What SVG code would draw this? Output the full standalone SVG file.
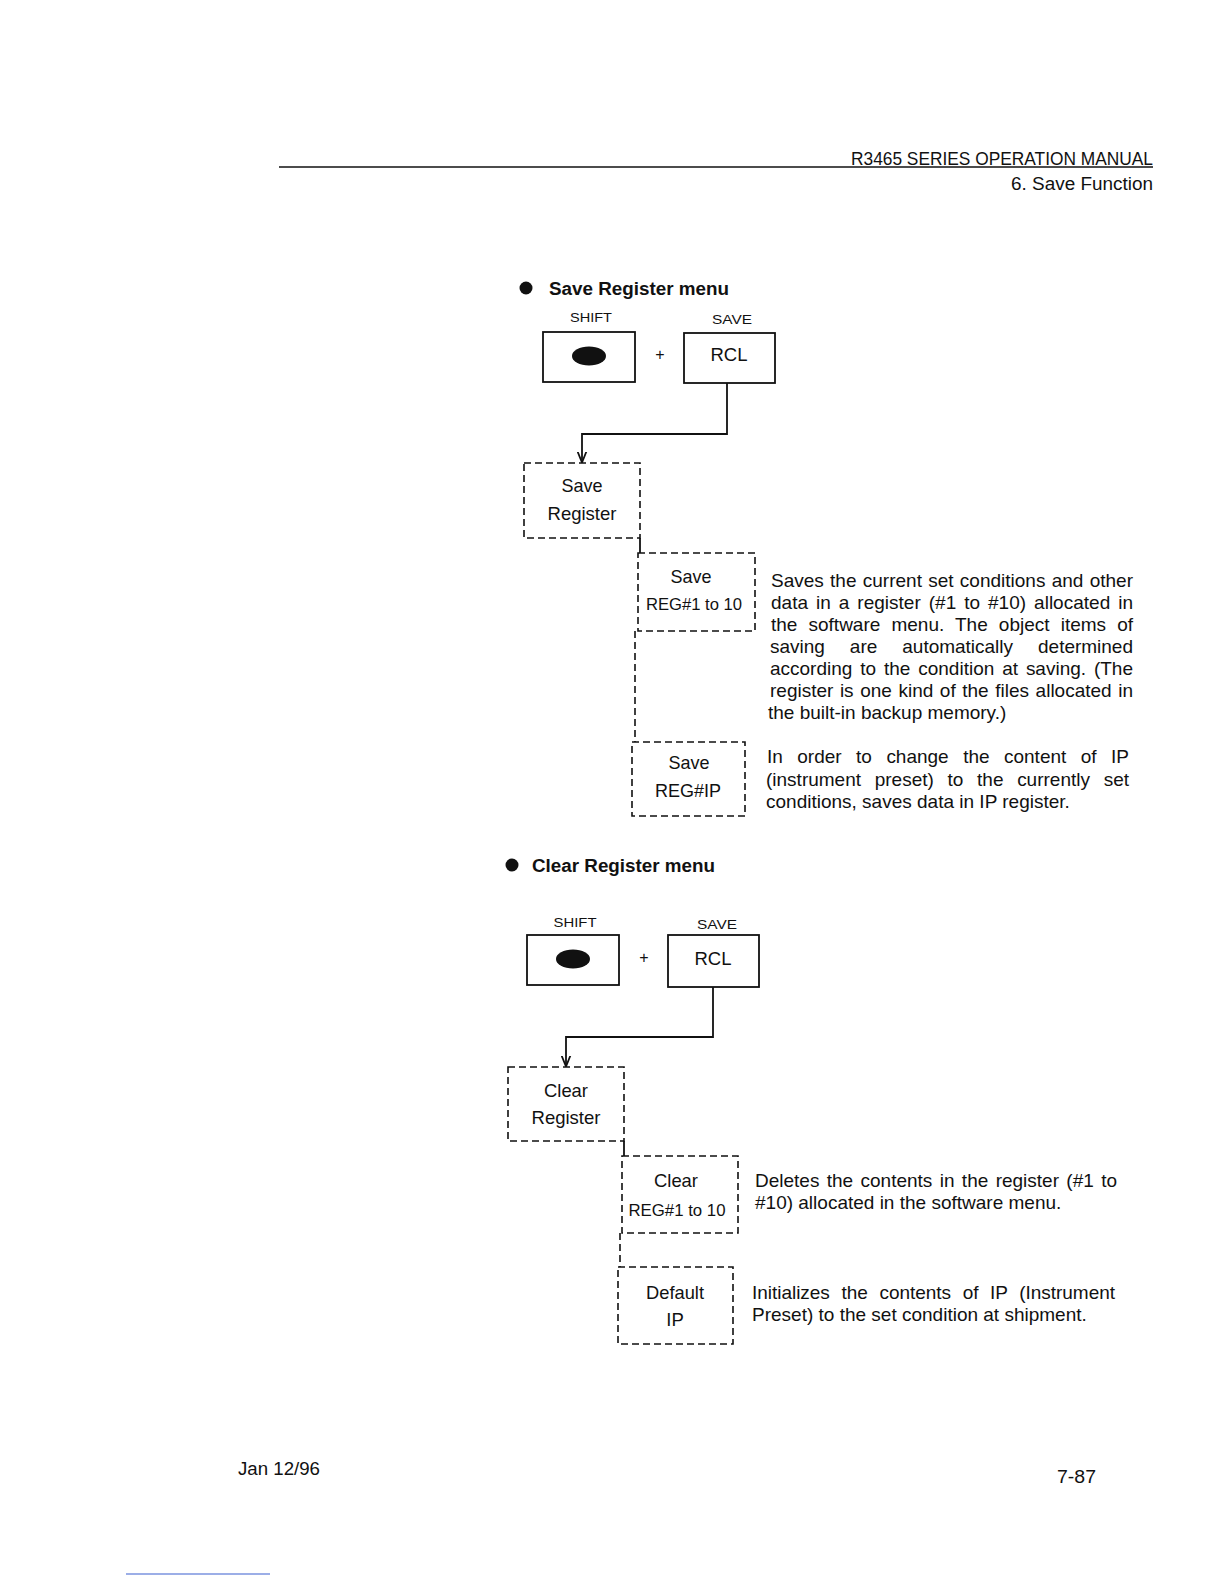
<svg xmlns="http://www.w3.org/2000/svg" width="1224" height="1584" viewBox="0 0 1224 1584">
<style>
text{font-family:"Liberation Sans",Arial,sans-serif;fill:#111}
.hdr{font-size:17.5px}
.title{font-size:18px;font-weight:bold}
.key{font-size:13px}
.btn{font-size:18.5px;text-anchor:middle}
.bt{font-size:18.5px;text-anchor:middle}
.bs{font-size:16px;text-anchor:middle}
.desc{font-size:19px}
.solid{fill:none;stroke:#111;stroke-width:1.8}
.dash{fill:none;stroke:#111;stroke-width:1.6;stroke-dasharray:7 4}
.conn{fill:none;stroke:#111;stroke-width:1.8}
.dconn{fill:none;stroke:#111;stroke-width:1.6;stroke-dasharray:7 4}
</style>
<defs>
<marker id="arr" viewBox="0 0 10 10" refX="9.5" refY="5" markerWidth="11" markerHeight="11" markerUnits="userSpaceOnUse" orient="auto">
<path d="M0,1 L10,5 L0,9" fill="none" stroke="#111" stroke-width="1.6"/>
</marker>
</defs>
<rect width="1224" height="1584" fill="#fff"/>

<g id="header">
<line x1="279" y1="167" x2="1153" y2="167" stroke="#111" stroke-width="1.3"/>
<text class="hdr" x="1153" y="165" text-anchor="end" textLength="302" lengthAdjust="spacingAndGlyphs">R3465 SERIES OPERATION MANUAL</text>
<text class="hdr" x="1153" y="190" text-anchor="end" textLength="142" lengthAdjust="spacingAndGlyphs">6. Save Function</text>
</g>

<g id="save-title">
<circle cx="526" cy="288" r="6.5" fill="#111"/>
<text class="title" x="549" y="295" textLength="180" lengthAdjust="spacingAndGlyphs">Save Register menu</text>
</g>

<g id="save-shift-key">
<text class="key" x="591" y="322" text-anchor="middle" textLength="42" lengthAdjust="spacingAndGlyphs">SHIFT</text>
<rect class="solid" x="543" y="332" width="92" height="50"/>
<ellipse cx="589" cy="356" rx="17" ry="9.5" fill="#111"/>
</g>
<text x="660" y="360" font-size="16" text-anchor="middle">+</text>
<g id="save-rcl-key">
<text class="key" x="732" y="324" text-anchor="middle" textLength="40" lengthAdjust="spacingAndGlyphs">SAVE</text>
<rect class="solid" x="684" y="333" width="91" height="50"/>
<text class="btn" x="729" y="361">RCL</text>
</g>

<g id="save-register">
<rect class="dash" x="524" y="463" width="116" height="75"/>
<text class="bt" x="582" y="492" textLength="41" lengthAdjust="spacingAndGlyphs">Save</text>
<text class="bt" x="582" y="520" textLength="69" lengthAdjust="spacingAndGlyphs">Register</text>
</g>

<g id="save-reg1-10">
<rect class="dash" x="638" y="553" width="117" height="78"/>
<text class="bt" x="691" y="583" textLength="41" lengthAdjust="spacingAndGlyphs">Save</text>
<text class="bs" x="694" y="610" textLength="96" lengthAdjust="spacingAndGlyphs">REG#1 to 10</text>
</g>

<g id="save-regip">
<rect class="dash" x="632" y="742" width="113" height="74"/>
<text class="bt" x="689" y="769" textLength="41" lengthAdjust="spacingAndGlyphs">Save</text>
<text class="bt" x="688" y="797" textLength="66" lengthAdjust="spacingAndGlyphs">REG#IP</text>
</g>

<g id="save-desc1">
<text class="desc" x="771" y="587" word-spacing="1" textLength="362" lengthAdjust="spacing">Saves the current set conditions and other</text>
<text class="desc" x="771" y="609" word-spacing="2.7" textLength="362" lengthAdjust="spacing">data in a register (#1 to #10) allocated in</text>
<text class="desc" x="771" y="631" word-spacing="5.8" textLength="362" lengthAdjust="spacing">the software menu. The object items of</text>
<text class="desc" x="770" y="653" word-spacing="19.7" textLength="363" lengthAdjust="spacing">saving are automatically determined</text>
<text class="desc" x="770" y="675" word-spacing="2.6" textLength="363" lengthAdjust="spacing">according to the condition at saving. (The</text>
<text class="desc" x="770" y="697" word-spacing="1.3" textLength="363" lengthAdjust="spacing">register is one kind of the files allocated in</text>
<text class="desc" x="768" y="719">the built-in backup memory.)</text>
</g>

<g id="save-desc2">
<text class="desc" x="767" y="763" word-spacing="9.2" textLength="362" lengthAdjust="spacing">In order to change the content of IP</text>
<text class="desc" x="766" y="786" word-spacing="8.4" textLength="363" lengthAdjust="spacing">(instrument preset) to the currently set</text>
<text class="desc" x="766" y="808">conditions, saves data in IP register.</text>
</g>

<g id="clear-title">
<circle cx="512" cy="865" r="6.5" fill="#111"/>
<text class="title" x="532" y="872" textLength="183" lengthAdjust="spacingAndGlyphs">Clear Register menu</text>
</g>

<g id="clear-shift-key">
<text class="key" x="575" y="927" text-anchor="middle" textLength="43" lengthAdjust="spacingAndGlyphs">SHIFT</text>
<rect class="solid" x="527" y="935" width="92" height="50"/>
<ellipse cx="573" cy="959" rx="17" ry="9.5" fill="#111"/>
</g>
<text x="644" y="963" font-size="16" text-anchor="middle">+</text>
<g id="clear-rcl-key">
<text class="key" x="717" y="929" text-anchor="middle" textLength="40" lengthAdjust="spacingAndGlyphs">SAVE</text>
<rect class="solid" x="668" y="935" width="91" height="52"/>
<text class="btn" x="713" y="965">RCL</text>
</g>

<g id="clear-register">
<rect class="dash" x="508" y="1067" width="116" height="74"/>
<text class="bt" x="566" y="1097" textLength="44" lengthAdjust="spacingAndGlyphs">Clear</text>
<text class="bt" x="566" y="1124" textLength="69" lengthAdjust="spacingAndGlyphs">Register</text>
</g>

<g id="clear-reg1-10">
<rect class="dash" x="622" y="1156" width="116" height="77"/>
<text class="bt" x="676" y="1187" textLength="44" lengthAdjust="spacingAndGlyphs">Clear</text>
<text class="bs" x="677" y="1216" textLength="97" lengthAdjust="spacingAndGlyphs">REG#1 to 10</text>
</g>

<g id="default-ip">
<rect class="dash" x="618" y="1267" width="115" height="77"/>
<text class="bt" x="675" y="1299" textLength="58" lengthAdjust="spacingAndGlyphs">Default</text>
<text class="bt" x="675" y="1326">IP</text>
</g>

<g id="clear-desc1">
<text class="desc" x="755" y="1187" word-spacing="2.1" textLength="362" lengthAdjust="spacing">Deletes the contents in the register (#1 to</text>
<text class="desc" x="755" y="1209">#10) allocated in the software menu.</text>
</g>

<g id="clear-desc2">
<text class="desc" x="752" y="1299" word-spacing="6.4" textLength="363" lengthAdjust="spacing">Initializes the contents of IP (Instrument</text>
<text class="desc" x="752" y="1321">Preset) to the set condition at shipment.</text>
</g>

<g id="connectors">
<path class="conn" d="M727,383 V434 H582 V462" marker-end="url(#arr)"/>
<path class="conn" d="M640,538 V553"/>
<path class="dconn" d="M635,631 V742"/>
<path class="conn" d="M713,987 V1037 H566 V1066" marker-end="url(#arr)"/>
<path class="conn" d="M624,1141 V1156"/>
<path class="dconn" d="M620,1233 V1267"/>
</g>

<g id="footer">
<text class="hdr" x="238" y="1475" textLength="82" lengthAdjust="spacingAndGlyphs">Jan 12/96</text>
<text class="hdr" x="1096" y="1483" text-anchor="end" textLength="39" lengthAdjust="spacingAndGlyphs">7-87</text>
<line x1="126" y1="1574" x2="270" y2="1574" stroke="#3a5fd0" stroke-width="1.2"/>
</g>
</svg>
